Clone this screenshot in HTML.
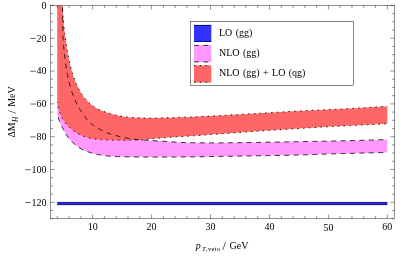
<!DOCTYPE html>
<html>
<head>
<meta charset="utf-8">
<title>Plot</title>
<style>
html,body{margin:0;padding:0;background:#fff;}
body{width:415px;height:260px;overflow:hidden;}
svg{display:block;font-family:"Liberation Serif",serif;font-size:10px;fill:#000;word-spacing:0.9px;}
</style>
</head>
<body>
<svg width="415" height="260" viewBox="0 0 415 260">
<rect x="0" y="0" width="415" height="260" fill="#fff"/>
<!-- NLO (gg) band -->
<path d="M62.40 5.40 L62.46 8.07 L62.51 10.74 L62.57 13.41 L62.62 16.08 L62.67 18.74 L62.73 21.41 L62.77 24.08 L62.82 26.75 L62.87 29.42 L62.92 32.09 L62.99 34.76 L63.09 37.43 L63.22 40.09 L63.38 42.76 L63.57 45.42 L63.80 48.08 L64.07 50.74 L64.36 53.39 L64.64 56.05 L64.95 58.70 L65.28 61.35 L65.64 63.99 L66.03 66.63 L66.46 69.27 L66.91 71.90 L67.41 74.53 L67.94 77.14 L68.52 79.74 L69.15 82.34 L69.83 84.93 L70.55 87.50 L71.32 90.05 L72.14 92.59 L73.04 95.11 L74.00 97.61 L75.03 100.07 L76.14 102.49 L77.35 104.88 L78.64 107.22 L80.02 109.49 L81.51 111.71 L83.04 113.90 L84.54 116.12 L86.03 118.36 L87.67 120.42 L89.56 122.31 L91.60 124.08 L93.72 125.69 L95.94 127.15 L98.26 128.49 L100.63 129.75 L103.00 130.97 L105.42 132.14 L107.88 133.15 L110.39 134.01 L112.96 134.76 L115.55 135.45 L118.13 136.12 L120.72 136.78 L123.33 137.40 L125.94 137.96 L128.56 138.43 L131.20 138.81 L133.84 139.15 L136.50 139.44 L139.16 139.70 L141.82 139.92 L144.49 140.09 L147.15 140.25 L149.82 140.41 L152.48 140.58 L155.15 140.75 L157.81 140.92 L160.47 141.10 L163.14 141.28 L165.80 141.45 L168.47 141.62 L171.13 141.79 L173.80 141.96 L176.46 142.13 L179.13 142.29 L181.79 142.43 L184.46 142.55 L187.13 142.64 L189.79 142.70 L192.46 142.73 L195.13 142.77 L197.80 142.80 L200.47 142.82 L203.14 142.85 L205.81 142.87 L208.48 142.88 L211.15 142.89 L213.82 142.90 L216.49 142.90 L219.16 142.89 L221.83 142.87 L224.50 142.85 L227.17 142.82 L229.84 142.79 L232.50 142.76 L235.17 142.72 L237.84 142.68 L240.51 142.65 L243.18 142.61 L245.85 142.58 L248.52 142.54 L251.19 142.50 L253.86 142.46 L256.53 142.42 L259.20 142.38 L261.87 142.33 L264.54 142.29 L267.20 142.24 L269.87 142.20 L272.54 142.15 L275.21 142.10 L277.88 142.05 L280.55 142.00 L283.22 141.95 L285.89 141.90 L288.56 141.85 L291.23 141.80 L293.90 141.75 L296.56 141.70 L299.23 141.65 L301.90 141.60 L304.57 141.55 L307.24 141.51 L309.91 141.46 L312.58 141.41 L315.25 141.36 L317.92 141.31 L320.59 141.26 L323.26 141.21 L325.92 141.16 L328.59 141.11 L331.26 141.06 L333.93 141.00 L336.60 140.95 L339.27 140.89 L341.94 140.84 L344.61 140.78 L347.28 140.72 L349.94 140.65 L352.61 140.58 L355.28 140.51 L357.95 140.44 L360.62 140.37 L363.29 140.29 L365.96 140.21 L368.62 140.13 L371.29 140.05 L373.96 139.96 L376.63 139.88 L379.30 139.79 L381.96 139.69 L384.63 139.60 L387.30 139.50 L387.30 152.40 L385.10 152.46 L382.89 152.52 L380.69 152.58 L378.48 152.64 L376.28 152.70 L374.07 152.76 L371.87 152.82 L369.66 152.88 L367.46 152.94 L365.26 153.00 L363.05 153.06 L360.85 153.12 L358.64 153.18 L356.44 153.23 L354.23 153.29 L352.03 153.35 L349.82 153.40 L347.62 153.46 L345.41 153.51 L343.21 153.57 L341.01 153.62 L338.80 153.67 L336.60 153.73 L334.39 153.79 L332.19 153.85 L329.98 153.92 L327.78 154.00 L325.58 154.08 L323.37 154.16 L321.17 154.24 L318.96 154.33 L316.76 154.41 L314.56 154.49 L312.35 154.57 L310.15 154.65 L307.94 154.73 L305.74 154.80 L303.54 154.86 L301.33 154.92 L299.13 154.97 L296.92 155.02 L294.72 155.07 L292.51 155.12 L290.31 155.17 L288.10 155.22 L285.90 155.26 L283.70 155.30 L281.49 155.35 L279.29 155.39 L277.08 155.43 L274.88 155.47 L272.67 155.51 L270.47 155.55 L268.26 155.58 L266.06 155.62 L263.85 155.66 L261.65 155.70 L259.44 155.73 L257.24 155.77 L255.03 155.81 L252.83 155.85 L250.62 155.88 L248.42 155.92 L246.21 155.96 L244.01 156.00 L241.80 156.04 L239.60 156.08 L237.39 156.12 L235.19 156.16 L232.98 156.19 L230.78 156.23 L228.57 156.27 L226.37 156.31 L224.16 156.35 L221.96 156.38 L219.75 156.42 L217.55 156.46 L215.34 156.49 L213.14 156.53 L210.93 156.57 L208.73 156.61 L206.52 156.65 L204.32 156.69 L202.11 156.73 L199.91 156.76 L197.70 156.80 L195.50 156.83 L193.29 156.86 L191.09 156.89 L188.88 156.91 L186.68 156.94 L184.47 156.96 L182.27 156.98 L180.06 157.01 L177.86 157.03 L175.65 157.05 L173.45 157.07 L171.24 157.08 L169.03 157.09 L166.83 157.10 L164.62 157.10 L162.42 157.10 L160.21 157.10 L158.01 157.10 L155.80 157.10 L153.60 157.10 L151.39 157.10 L149.19 157.10 L146.98 157.08 L144.78 157.07 L142.57 157.05 L140.37 157.03 L138.16 157.00 L135.96 156.97 L133.75 156.94 L131.55 156.91 L129.34 156.88 L127.14 156.84 L124.93 156.80 L122.72 156.74 L120.52 156.68 L118.31 156.61 L116.11 156.53 L113.91 156.44 L111.71 156.33 L109.51 156.16 L107.31 155.95 L105.11 155.69 L102.92 155.39 L100.74 155.06 L98.57 154.70 L96.42 154.29 L94.28 153.76 L92.15 153.14 L90.04 152.47 L87.94 151.78 L85.85 151.05 L83.82 150.20 L81.87 149.22 L79.94 148.10 L78.07 146.88 L76.28 145.58 L74.58 144.22 L72.95 142.76 L71.37 141.19 L69.86 139.54 L68.44 137.82 L67.14 136.07 L65.94 134.25 L64.81 132.35 L63.75 130.39 L62.75 128.41 L61.79 126.43 L60.87 124.43 L60.00 122.39 L59.22 120.33 L58.51 118.25 L57.87 116.14 L57.30 114.00 L57.28 5.40 Z" fill="#ff99ff"/>
<!-- NLO (gg) + LO (qg) band -->
<path d="M57.28 5.40 L62.40 5.40 L62.51 7.95 L62.65 10.49 L62.82 13.03 L63.00 15.57 L63.20 18.11 L63.41 20.64 L63.64 23.18 L63.87 25.71 L64.13 28.24 L64.44 30.77 L64.77 33.30 L65.10 35.82 L65.45 38.34 L65.80 40.87 L66.16 43.39 L66.54 45.91 L66.93 48.43 L67.34 50.94 L67.77 53.45 L68.22 55.96 L68.69 58.45 L69.19 60.94 L69.76 63.43 L70.38 65.90 L71.04 68.36 L71.73 70.81 L72.47 73.24 L73.26 75.67 L74.09 78.08 L74.98 80.46 L75.95 82.81 L76.99 85.14 L78.06 87.45 L79.20 89.73 L80.42 91.96 L81.73 94.15 L83.19 96.22 L84.79 98.21 L86.48 100.12 L88.24 101.96 L90.11 103.68 L92.07 105.32 L94.13 106.83 L96.29 108.15 L98.56 109.32 L100.89 110.33 L103.26 111.25 L105.66 112.11 L108.09 112.90 L110.53 113.64 L112.98 114.33 L115.44 114.99 L117.92 115.59 L120.41 116.10 L122.92 116.51 L125.44 116.88 L127.98 117.18 L130.51 117.39 L133.05 117.53 L135.59 117.66 L138.13 117.77 L140.68 117.87 L143.22 117.96 L145.77 118.03 L148.32 118.07 L150.87 118.10 L153.41 118.09 L155.96 118.06 L158.50 117.99 L161.05 117.92 L163.59 117.84 L166.13 117.77 L168.68 117.70 L171.22 117.63 L173.77 117.55 L176.31 117.48 L178.86 117.39 L181.40 117.31 L183.95 117.22 L186.49 117.13 L189.03 117.04 L191.58 116.94 L194.12 116.83 L196.66 116.73 L199.21 116.61 L201.75 116.49 L204.29 116.37 L206.83 116.24 L209.38 116.11 L211.92 115.98 L214.46 115.85 L217.00 115.71 L219.54 115.57 L222.09 115.43 L224.63 115.29 L227.17 115.14 L229.71 115.00 L232.25 114.86 L234.80 114.71 L237.34 114.57 L239.88 114.43 L242.42 114.29 L244.96 114.15 L247.50 114.01 L250.05 113.86 L252.59 113.72 L255.13 113.57 L257.67 113.42 L260.21 113.27 L262.75 113.12 L265.29 112.97 L267.84 112.82 L270.38 112.67 L272.92 112.52 L275.46 112.37 L278.00 112.21 L280.54 112.06 L283.08 111.91 L285.62 111.77 L288.16 111.62 L290.71 111.47 L293.25 111.33 L295.79 111.19 L298.33 111.05 L300.87 110.91 L303.41 110.78 L305.96 110.64 L308.50 110.52 L311.04 110.39 L313.58 110.27 L316.13 110.14 L318.67 110.02 L321.21 109.90 L323.76 109.79 L326.30 109.67 L328.84 109.55 L331.38 109.43 L333.93 109.31 L336.47 109.18 L339.01 109.06 L341.56 108.94 L344.10 108.81 L346.64 108.68 L349.18 108.54 L351.72 108.41 L354.27 108.27 L356.81 108.13 L359.35 107.98 L361.89 107.84 L364.43 107.69 L366.97 107.54 L369.51 107.39 L372.05 107.24 L374.60 107.09 L377.14 106.93 L379.68 106.78 L382.22 106.62 L384.76 106.46 L387.30 106.30 L387.30 123.80 L385.10 123.90 L382.90 124.01 L380.70 124.11 L378.50 124.22 L376.30 124.32 L374.10 124.43 L371.90 124.53 L369.70 124.64 L367.50 124.75 L365.30 124.85 L363.10 124.96 L360.90 125.07 L358.70 125.17 L356.50 125.28 L354.30 125.39 L352.11 125.50 L349.91 125.60 L347.71 125.71 L345.51 125.82 L343.31 125.93 L341.11 126.03 L338.91 126.14 L336.71 126.26 L334.51 126.37 L332.31 126.49 L330.11 126.61 L327.91 126.74 L325.71 126.86 L323.52 126.99 L321.32 127.12 L319.12 127.25 L316.92 127.38 L314.72 127.52 L312.52 127.65 L310.33 127.78 L308.13 127.92 L305.93 128.06 L303.73 128.19 L301.53 128.33 L299.34 128.47 L297.14 128.60 L294.94 128.74 L292.74 128.88 L290.54 129.02 L288.35 129.15 L286.15 129.29 L283.95 129.43 L281.75 129.57 L279.56 129.71 L277.36 129.86 L275.16 130.00 L272.96 130.14 L270.76 130.29 L268.57 130.43 L266.37 130.58 L264.17 130.72 L261.98 130.87 L259.78 131.02 L257.58 131.17 L255.38 131.32 L253.19 131.48 L250.99 131.63 L248.79 131.79 L246.60 131.95 L244.40 132.11 L242.21 132.28 L240.01 132.44 L237.81 132.61 L235.62 132.78 L233.42 132.95 L231.23 133.11 L229.03 133.27 L226.83 133.43 L224.64 133.59 L222.44 133.75 L220.24 133.90 L218.05 134.06 L215.85 134.22 L213.65 134.37 L211.46 134.52 L209.26 134.68 L207.06 134.83 L204.87 134.99 L202.67 135.14 L200.47 135.29 L198.28 135.44 L196.08 135.59 L193.88 135.75 L191.68 135.89 L189.49 136.04 L187.29 136.19 L185.09 136.33 L182.89 136.48 L180.70 136.62 L178.50 136.77 L176.30 136.91 L174.10 137.06 L171.91 137.21 L169.71 137.36 L167.51 137.52 L165.32 137.68 L163.12 137.84 L160.92 138.00 L158.73 138.17 L156.53 138.35 L154.34 138.57 L152.16 138.82 L149.97 139.08 L147.78 139.32 L145.59 139.57 L143.40 139.79 L141.20 139.91 L139.00 139.98 L136.80 140.03 L134.60 140.08 L132.40 140.12 L130.19 140.15 L127.99 140.18 L125.79 140.19 L123.58 140.20 L121.38 140.20 L119.18 140.18 L116.98 140.16 L114.77 140.13 L112.57 140.10 L110.37 140.05 L108.17 140.00 L105.97 139.93 L103.76 139.81 L101.56 139.65 L99.36 139.46 L97.17 139.23 L94.99 138.97 L92.82 138.69 L90.65 138.29 L88.49 137.78 L86.35 137.18 L84.26 136.52 L82.21 135.78 L80.19 134.87 L78.22 133.83 L76.33 132.70 L74.53 131.48 L72.81 130.10 L71.13 128.64 L69.45 127.21 L67.73 125.81 L66.27 124.21 L65.05 122.36 L63.72 120.58 L62.48 118.77 L61.49 116.82 L60.61 114.79 L59.84 112.70 L59.20 110.61 L58.61 108.50 L58.09 106.36 L57.65 104.19 L57.30 102.00 Z" fill="#ff6666"/>
<!-- LO (gg) band -->
<rect x="57.28" y="202.45" width="330.06" height="2.20" fill="#2828ff"/>
<path d="M57.28 202.45H387.34M57.28 204.65H387.34" stroke="#00007a" stroke-width="0.85" fill="none"/>
<!-- curves -->
<g fill="none" stroke="#1a1a1a" stroke-width="1">
<path d="M62.40 5.40 L62.46 8.07 L62.51 10.74 L62.57 13.41 L62.62 16.08 L62.67 18.74 L62.73 21.41 L62.77 24.08 L62.82 26.75 L62.87 29.42 L62.92 32.09 L62.99 34.76 L63.09 37.43 L63.22 40.09 L63.38 42.76 L63.57 45.42 L63.80 48.08 L64.07 50.74 L64.36 53.39 L64.64 56.05 L64.95 58.70 L65.28 61.35 L65.64 63.99 L66.03 66.63 L66.46 69.27 L66.91 71.90 L67.41 74.53 L67.94 77.14 L68.52 79.74 L69.15 82.34 L69.83 84.93 L70.55 87.50 L71.32 90.05 L72.14 92.59 L73.04 95.11 L74.00 97.61 L75.03 100.07 L76.14 102.49 L77.35 104.88 L78.64 107.22 L80.02 109.49 L81.51 111.71 L83.04 113.90 L84.54 116.12 L86.03 118.36 L87.67 120.42 L89.56 122.31 L91.60 124.08 L93.72 125.69 L95.94 127.15 L98.26 128.49 L100.63 129.75 L103.00 130.97 L105.42 132.14 L107.88 133.15 L110.39 134.01 L112.96 134.76 L115.55 135.45 L118.13 136.12 L120.72 136.78 L123.33 137.40 L125.94 137.96 L128.56 138.43 L131.20 138.81 L133.84 139.15 L136.50 139.44 L139.16 139.70 L141.82 139.92 L144.49 140.09 L147.15 140.25 L149.82 140.41 L152.48 140.58 L155.15 140.75 L157.81 140.92 L160.47 141.10 L163.14 141.28 L165.80 141.45 L168.47 141.62 L171.13 141.79 L173.80 141.96 L176.46 142.13 L179.13 142.29 L181.79 142.43 L184.46 142.55 L187.13 142.64 L189.79 142.70 L192.46 142.73 L195.13 142.77 L197.80 142.80 L200.47 142.82 L203.14 142.85 L205.81 142.87 L208.48 142.88 L211.15 142.89 L213.82 142.90 L216.49 142.90 L219.16 142.89 L221.83 142.87 L224.50 142.85 L227.17 142.82 L229.84 142.79 L232.50 142.76 L235.17 142.72 L237.84 142.68 L240.51 142.65 L243.18 142.61 L245.85 142.58 L248.52 142.54 L251.19 142.50 L253.86 142.46 L256.53 142.42 L259.20 142.38 L261.87 142.33 L264.54 142.29 L267.20 142.24 L269.87 142.20 L272.54 142.15 L275.21 142.10 L277.88 142.05 L280.55 142.00 L283.22 141.95 L285.89 141.90 L288.56 141.85 L291.23 141.80 L293.90 141.75 L296.56 141.70 L299.23 141.65 L301.90 141.60 L304.57 141.55 L307.24 141.51 L309.91 141.46 L312.58 141.41 L315.25 141.36 L317.92 141.31 L320.59 141.26 L323.26 141.21 L325.92 141.16 L328.59 141.11 L331.26 141.06 L333.93 141.00 L336.60 140.95 L339.27 140.89 L341.94 140.84 L344.61 140.78 L347.28 140.72 L349.94 140.65 L352.61 140.58 L355.28 140.51 L357.95 140.44 L360.62 140.37 L363.29 140.29 L365.96 140.21 L368.62 140.13 L371.29 140.05 L373.96 139.96 L376.63 139.88 L379.30 139.79 L381.96 139.69 L384.63 139.60 L387.30 139.50" stroke-dashoffset="7.59" stroke-dasharray="5 4.4" stroke-width="0.85" stroke="#111"/>
<path d="M57.30 114.00 L57.87 116.14 L58.51 118.25 L59.22 120.33 L60.00 122.39 L60.87 124.43 L61.79 126.43 L62.75 128.41 L63.75 130.39 L64.81 132.35 L65.94 134.25 L67.14 136.07 L68.44 137.82 L69.86 139.54 L71.37 141.19 L72.95 142.76 L74.58 144.22 L76.28 145.58 L78.07 146.88 L79.94 148.10 L81.87 149.22 L83.82 150.20 L85.85 151.05 L87.94 151.78 L90.04 152.47 L92.15 153.14 L94.28 153.76 L96.42 154.29 L98.57 154.70 L100.74 155.06 L102.92 155.39 L105.11 155.69 L107.31 155.95 L109.51 156.16 L111.71 156.33 L113.91 156.44 L116.11 156.53 L118.31 156.61 L120.52 156.68 L122.72 156.74 L124.93 156.80 L127.14 156.84 L129.34 156.88 L131.55 156.91 L133.75 156.94 L135.96 156.97 L138.16 157.00 L140.37 157.03 L142.57 157.05 L144.78 157.07 L146.98 157.08 L149.19 157.10 L151.39 157.10 L153.60 157.10 L155.80 157.10 L158.01 157.10 L160.21 157.10 L162.42 157.10 L164.62 157.10 L166.83 157.10 L169.03 157.09 L171.24 157.08 L173.45 157.07 L175.65 157.05 L177.86 157.03 L180.06 157.01 L182.27 156.98 L184.47 156.96 L186.68 156.94 L188.88 156.91 L191.09 156.89 L193.29 156.86 L195.50 156.83 L197.70 156.80 L199.91 156.76 L202.11 156.73 L204.32 156.69 L206.52 156.65 L208.73 156.61 L210.93 156.57 L213.14 156.53 L215.34 156.49 L217.55 156.46 L219.75 156.42 L221.96 156.38 L224.16 156.35 L226.37 156.31 L228.57 156.27 L230.78 156.23 L232.98 156.19 L235.19 156.16 L237.39 156.12 L239.60 156.08 L241.80 156.04 L244.01 156.00 L246.21 155.96 L248.42 155.92 L250.62 155.88 L252.83 155.85 L255.03 155.81 L257.24 155.77 L259.44 155.73 L261.65 155.70 L263.85 155.66 L266.06 155.62 L268.26 155.58 L270.47 155.55 L272.67 155.51 L274.88 155.47 L277.08 155.43 L279.29 155.39 L281.49 155.35 L283.70 155.30 L285.90 155.26 L288.10 155.22 L290.31 155.17 L292.51 155.12 L294.72 155.07 L296.92 155.02 L299.13 154.97 L301.33 154.92 L303.54 154.86 L305.74 154.80 L307.94 154.73 L310.15 154.65 L312.35 154.57 L314.56 154.49 L316.76 154.41 L318.96 154.33 L321.17 154.24 L323.37 154.16 L325.58 154.08 L327.78 154.00 L329.98 153.92 L332.19 153.85 L334.39 153.79 L336.60 153.73 L338.80 153.67 L341.01 153.62 L343.21 153.57 L345.41 153.51 L347.62 153.46 L349.82 153.40 L352.03 153.35 L354.23 153.29 L356.44 153.23 L358.64 153.18 L360.85 153.12 L363.05 153.06 L365.26 153.00 L367.46 152.94 L369.66 152.88 L371.87 152.82 L374.07 152.76 L376.28 152.70 L378.48 152.64 L380.69 152.58 L382.89 152.52 L385.10 152.46 L387.30 152.40" stroke-dashoffset="6.18" stroke-dasharray="5 4.4" stroke-width="0.85" stroke="#111"/>
<path d="M62.40 5.40 L62.51 7.95 L62.65 10.49 L62.82 13.03 L63.00 15.57 L63.20 18.11 L63.41 20.64 L63.64 23.18 L63.87 25.71 L64.13 28.24 L64.44 30.77 L64.77 33.30 L65.10 35.82 L65.45 38.34 L65.80 40.87 L66.16 43.39 L66.54 45.91 L66.93 48.43 L67.34 50.94 L67.77 53.45 L68.22 55.96 L68.69 58.45 L69.19 60.94 L69.76 63.43 L70.38 65.90 L71.04 68.36 L71.73 70.81 L72.47 73.24 L73.26 75.67 L74.09 78.08 L74.98 80.46 L75.95 82.81 L76.99 85.14 L78.06 87.45 L79.20 89.73 L80.42 91.96 L81.73 94.15 L83.19 96.22 L84.79 98.21 L86.48 100.12 L88.24 101.96 L90.11 103.68 L92.07 105.32 L94.13 106.83 L96.29 108.15 L98.56 109.32 L100.89 110.33 L103.26 111.25 L105.66 112.11 L108.09 112.90 L110.53 113.64 L112.98 114.33 L115.44 114.99 L117.92 115.59 L120.41 116.10 L122.92 116.51 L125.44 116.88 L127.98 117.18 L130.51 117.39 L133.05 117.53 L135.59 117.66 L138.13 117.77 L140.68 117.87 L143.22 117.96 L145.77 118.03 L148.32 118.07 L150.87 118.10 L153.41 118.09 L155.96 118.06 L158.50 117.99 L161.05 117.92 L163.59 117.84 L166.13 117.77 L168.68 117.70 L171.22 117.63 L173.77 117.55 L176.31 117.48 L178.86 117.39 L181.40 117.31 L183.95 117.22 L186.49 117.13 L189.03 117.04 L191.58 116.94 L194.12 116.83 L196.66 116.73 L199.21 116.61 L201.75 116.49 L204.29 116.37 L206.83 116.24 L209.38 116.11 L211.92 115.98 L214.46 115.85 L217.00 115.71 L219.54 115.57 L222.09 115.43 L224.63 115.29 L227.17 115.14 L229.71 115.00 L232.25 114.86 L234.80 114.71 L237.34 114.57 L239.88 114.43 L242.42 114.29 L244.96 114.15 L247.50 114.01 L250.05 113.86 L252.59 113.72 L255.13 113.57 L257.67 113.42 L260.21 113.27 L262.75 113.12 L265.29 112.97 L267.84 112.82 L270.38 112.67 L272.92 112.52 L275.46 112.37 L278.00 112.21 L280.54 112.06 L283.08 111.91 L285.62 111.77 L288.16 111.62 L290.71 111.47 L293.25 111.33 L295.79 111.19 L298.33 111.05 L300.87 110.91 L303.41 110.78 L305.96 110.64 L308.50 110.52 L311.04 110.39 L313.58 110.27 L316.13 110.14 L318.67 110.02 L321.21 109.90 L323.76 109.79 L326.30 109.67 L328.84 109.55 L331.38 109.43 L333.93 109.31 L336.47 109.18 L339.01 109.06 L341.56 108.94 L344.10 108.81 L346.64 108.68 L349.18 108.54 L351.72 108.41 L354.27 108.27 L356.81 108.13 L359.35 107.98 L361.89 107.84 L364.43 107.69 L366.97 107.54 L369.51 107.39 L372.05 107.24 L374.60 107.09 L377.14 106.93 L379.68 106.78 L382.22 106.62 L384.76 106.46 L387.30 106.30" stroke-dashoffset="1.54" stroke-dasharray="1.5 4.3"/>
<path d="M57.30 102.00 L57.65 104.19 L58.09 106.36 L58.61 108.50 L59.20 110.61 L59.84 112.70 L60.61 114.79 L61.49 116.82 L62.48 118.77 L63.72 120.58 L65.05 122.36 L66.27 124.21 L67.73 125.81 L69.45 127.21 L71.13 128.64 L72.81 130.10 L74.53 131.48 L76.33 132.70 L78.22 133.83 L80.19 134.87 L82.21 135.78 L84.26 136.52 L86.35 137.18 L88.49 137.78 L90.65 138.29 L92.82 138.69 L94.99 138.97 L97.17 139.23 L99.36 139.46 L101.56 139.65 L103.76 139.81 L105.97 139.93 L108.17 140.00 L110.37 140.05 L112.57 140.10 L114.77 140.13 L116.98 140.16 L119.18 140.18 L121.38 140.20 L123.58 140.20 L125.79 140.19 L127.99 140.18 L130.19 140.15 L132.40 140.12 L134.60 140.08 L136.80 140.03 L139.00 139.98 L141.20 139.91 L143.40 139.79 L145.59 139.57 L147.78 139.32 L149.97 139.08 L152.16 138.82 L154.34 138.57 L156.53 138.35 L158.73 138.17 L160.92 138.00 L163.12 137.84 L165.32 137.68 L167.51 137.52 L169.71 137.36 L171.91 137.21 L174.10 137.06 L176.30 136.91 L178.50 136.77 L180.70 136.62 L182.89 136.48 L185.09 136.33 L187.29 136.19 L189.49 136.04 L191.68 135.89 L193.88 135.75 L196.08 135.59 L198.28 135.44 L200.47 135.29 L202.67 135.14 L204.87 134.99 L207.06 134.83 L209.26 134.68 L211.46 134.52 L213.65 134.37 L215.85 134.22 L218.05 134.06 L220.24 133.90 L222.44 133.75 L224.64 133.59 L226.83 133.43 L229.03 133.27 L231.23 133.11 L233.42 132.95 L235.62 132.78 L237.81 132.61 L240.01 132.44 L242.21 132.28 L244.40 132.11 L246.60 131.95 L248.79 131.79 L250.99 131.63 L253.19 131.48 L255.38 131.32 L257.58 131.17 L259.78 131.02 L261.98 130.87 L264.17 130.72 L266.37 130.58 L268.57 130.43 L270.76 130.29 L272.96 130.14 L275.16 130.00 L277.36 129.86 L279.56 129.71 L281.75 129.57 L283.95 129.43 L286.15 129.29 L288.35 129.15 L290.54 129.02 L292.74 128.88 L294.94 128.74 L297.14 128.60 L299.34 128.47 L301.53 128.33 L303.73 128.19 L305.93 128.06 L308.13 127.92 L310.33 127.78 L312.52 127.65 L314.72 127.52 L316.92 127.38 L319.12 127.25 L321.32 127.12 L323.52 126.99 L325.71 126.86 L327.91 126.74 L330.11 126.61 L332.31 126.49 L334.51 126.37 L336.71 126.26 L338.91 126.14 L341.11 126.03 L343.31 125.93 L345.51 125.82 L347.71 125.71 L349.91 125.60 L352.11 125.50 L354.30 125.39 L356.50 125.28 L358.70 125.17 L360.90 125.07 L363.10 124.96 L365.30 124.85 L367.50 124.75 L369.70 124.64 L371.90 124.53 L374.10 124.43 L376.30 124.32 L378.50 124.22 L380.70 124.11 L382.90 124.01 L385.10 123.90 L387.30 123.80" stroke-dashoffset="0.94" stroke-dasharray="1.5 4.3"/>
</g>
<!-- frame -->
<rect x="50.4" y="5.4" width="344.10" height="213.20" fill="none" stroke="#000" stroke-width="0.43"/>
<path d="M57.28 218.60v-2.6 M57.28 5.40v2.6 M69.06 218.60v-2.6 M69.06 5.40v2.6 M80.85 218.60v-2.6 M80.85 5.40v2.6 M92.64 218.60v-4.2 M92.64 5.40v4.2 M104.43 218.60v-2.6 M104.43 5.40v2.6 M116.22 218.60v-2.6 M116.22 5.40v2.6 M128.00 218.60v-2.6 M128.00 5.40v2.6 M139.79 218.60v-2.6 M139.79 5.40v2.6 M151.58 218.60v-4.2 M151.58 5.40v4.2 M163.37 218.60v-2.6 M163.37 5.40v2.6 M175.16 218.60v-2.6 M175.16 5.40v2.6 M186.94 218.60v-2.6 M186.94 5.40v2.6 M198.73 218.60v-2.6 M198.73 5.40v2.6 M210.52 218.60v-4.2 M210.52 5.40v4.2 M222.31 218.60v-2.6 M222.31 5.40v2.6 M234.10 218.60v-2.6 M234.10 5.40v2.6 M245.88 218.60v-2.6 M245.88 5.40v2.6 M257.67 218.60v-2.6 M257.67 5.40v2.6 M269.46 218.60v-4.2 M269.46 5.40v4.2 M281.25 218.60v-2.6 M281.25 5.40v2.6 M293.04 218.60v-2.6 M293.04 5.40v2.6 M304.82 218.60v-2.6 M304.82 5.40v2.6 M316.61 218.60v-2.6 M316.61 5.40v2.6 M328.40 218.60v-4.2 M328.40 5.40v4.2 M340.19 218.60v-2.6 M340.19 5.40v2.6 M351.98 218.60v-2.6 M351.98 5.40v2.6 M363.76 218.60v-2.6 M363.76 5.40v2.6 M375.55 218.60v-2.6 M375.55 5.40v2.6 M387.34 218.60v-4.2 M387.34 5.40v4.2 M50.40 5.40h4.2 M394.50 5.40h-4.2 M50.40 13.61h2.6 M394.50 13.61h-2.6 M50.40 21.81h2.6 M394.50 21.81h-2.6 M50.40 30.02h2.6 M394.50 30.02h-2.6 M50.40 38.22h4.2 M394.50 38.22h-4.2 M50.40 46.42h2.6 M394.50 46.42h-2.6 M50.40 54.63h2.6 M394.50 54.63h-2.6 M50.40 62.84h2.6 M394.50 62.84h-2.6 M50.40 71.04h4.2 M394.50 71.04h-4.2 M50.40 79.25h2.6 M394.50 79.25h-2.6 M50.40 87.45h2.6 M394.50 87.45h-2.6 M50.40 95.66h2.6 M394.50 95.66h-2.6 M50.40 103.86h4.2 M394.50 103.86h-4.2 M50.40 112.07h2.6 M394.50 112.07h-2.6 M50.40 120.27h2.6 M394.50 120.27h-2.6 M50.40 128.47h2.6 M394.50 128.47h-2.6 M50.40 136.68h4.2 M394.50 136.68h-4.2 M50.40 144.89h2.6 M394.50 144.89h-2.6 M50.40 153.09h2.6 M394.50 153.09h-2.6 M50.40 161.30h2.6 M394.50 161.30h-2.6 M50.40 169.50h4.2 M394.50 169.50h-4.2 M50.40 177.71h2.6 M394.50 177.71h-2.6 M50.40 185.91h2.6 M394.50 185.91h-2.6 M50.40 194.12h2.6 M394.50 194.12h-2.6 M50.40 202.32h4.2 M394.50 202.32h-4.2 M50.40 210.53h2.6 M394.50 210.53h-2.6 M50.40 218.73h2.6 M394.50 218.73h-2.6" stroke="#000" stroke-width="0.42" fill="none"/>
<!-- legend box + swatches -->
<rect x="190.5" y="21.5" width="163" height="64" fill="#fff" stroke="#000" stroke-width="0.46"/>
<rect x="194" y="25" width="17.3" height="16.9" fill="#3333ff"/>
<path d="M194 25.4H211.3M194 41.45H211.3" stroke="#00007a" stroke-width="0.85"/>
<rect x="194" y="45.1" width="17.3" height="17.1" fill="#ff99ff"/>
<path d="M194 45.4H211.3M194 61.9H211.3" stroke="#111" stroke-width="0.8" stroke-dasharray="4.8 4.6"/>
<rect x="194" y="65.3" width="17.3" height="17.2" fill="#ff6666"/>
<path d="M194 65.6H211.3M194 82.2H211.3" stroke="#1a1a1a" stroke-width="1" stroke-dasharray="1.5 4.3"/>

<!-- all text (grouped so it is antialiased in grayscale) -->
<g style="filter:grayscale(1)">
<text x="92.64" y="229.8" text-anchor="middle">10</text><text x="151.58" y="229.8" text-anchor="middle">20</text><text x="210.52" y="229.8" text-anchor="middle">30</text><text x="269.46" y="229.8" text-anchor="middle">40</text><text x="328.40" y="230.6" text-anchor="middle">50</text><text x="387.34" y="229.8" text-anchor="middle">60</text>
<text x="46.6" y="8.70" text-anchor="end">0</text><text x="46.6" y="41.52" text-anchor="end">20</text><text x="46.6" y="74.34" text-anchor="end">40</text><text x="46.6" y="107.16" text-anchor="end">60</text><text x="46.6" y="139.98" text-anchor="end">80</text><text x="46.6" y="172.80" text-anchor="end">100</text><text x="46.6" y="205.62" text-anchor="end">120</text>
<path d="M30.30 38.42H35.80 M30.30 71.24H35.80 M30.30 104.06H35.80 M30.30 136.88H35.80 M25.30 169.70H30.80 M25.30 202.52H30.80" stroke="#222" stroke-width="0.7" fill="none"/>
<text x="195.7" y="248.8" font-style="italic">p</text>
<text x="202.0" y="251.2" font-size="6.8" letter-spacing="0.2"><tspan font-style="italic">T</tspan>,veto</text>
<text x="222.6" y="250.3" font-size="12">/</text>
<text x="229.4" y="248.8" letter-spacing="0.15">GeV</text>
<g transform="translate(14.85 137.6) rotate(-90)">
<text x="0" y="0">&#916;M</text>
<text x="15.7" y="2.65" font-size="7.2" font-style="italic">H</text>
<text x="24.2" y="1.4" font-size="12">/</text>
<text x="30.8" y="0">MeV</text>
</g>
<text x="219.0" y="36.4">LO (gg)</text>
<text x="219.0" y="56.3">NLO (gg)</text>
<text x="219.0" y="76.4">NLO (gg) + LO (qg)</text>
</g>
</svg>
</body>
</html>
